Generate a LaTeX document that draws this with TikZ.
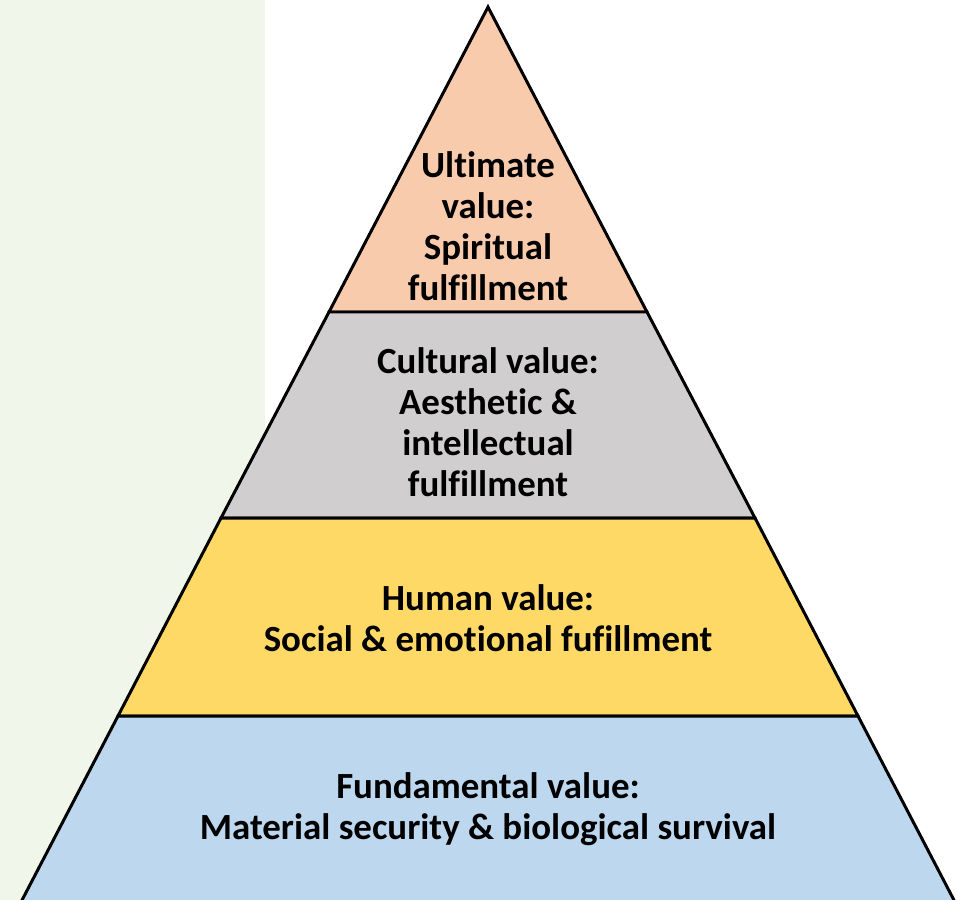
\documentclass[tikz,border=0pt]{standalone}
\usepackage{fontspec}
\setmainfont{Carlito}[Ligatures=NoCommon]
\usepackage{tikz}
\usetikzlibrary{positioning}

\definecolor{bandgreen}{HTML}{F0F6EA}
\definecolor{tierpeach}{HTML}{F8CBAD}
\definecolor{tiergray}{HTML}{D0CECE}
\definecolor{tieryellow}{HTML}{FFD966}
\definecolor{tierblue}{HTML}{BDD7EE}

\begin{document}
\begin{tikzpicture}[
            x=0.02cm, y=-0.02cm,
            tier/.style={draw=black, line width=1.7pt, line join=miter},
            label/.style={align=center, font=\fontsize{21}{23.4}\selectfont\bfseries, inner sep=0pt}
        ]

        % page and green band
        \useasboundingbox (0,0) rectangle (961,900);
        \clip (0,0) rectangle (961,900);
        \fill[bandgreen] (0,0) rectangle (265,900);

        % corners of the pyramid
        \coordinate (apex) at (488,7);
        \coordinate (l1) at (329,312);  \coordinate (r1) at (647,312);
        \coordinate (l2) at (221,518);  \coordinate (r2) at (755,518);
        \coordinate (l3) at (118,716);  \coordinate (r3) at (858,716);
        \coordinate (l4) at (20,904);   \coordinate (r4) at (956,904);

        % tiers, top to bottom
        \filldraw[tier, fill=tierpeach] (apex) -- (r1) -- (l1) -- cycle;
        \filldraw[tier, fill=tiergray] (l1) -- (r1) -- (r2) -- (l2) -- cycle;
        \filldraw[tier, fill=tieryellow] (l2) -- (r2) -- (r3) -- (l3) -- cycle;
        \filldraw[tier, fill=tierblue] (l3) -- (r3) -- (r4) -- (l4) -- cycle;

        % texts
        \node[label] (ultimate) at (488,226) {Ultimate\\value:\\Spiritual\\fulfillment};
        \node[label] (cultural) at (488,422) {Cultural value:\\Aesthetic \&\\intellectual\\fulfillment};
        \node[label] (human) at (488,618) {Human value:\\Social \& emotional fufillment};
        \node[label] (fundamental) at (488,809) {Fundamental value:\\Material security \& biological survival};

    \end{tikzpicture}
\end{document}
